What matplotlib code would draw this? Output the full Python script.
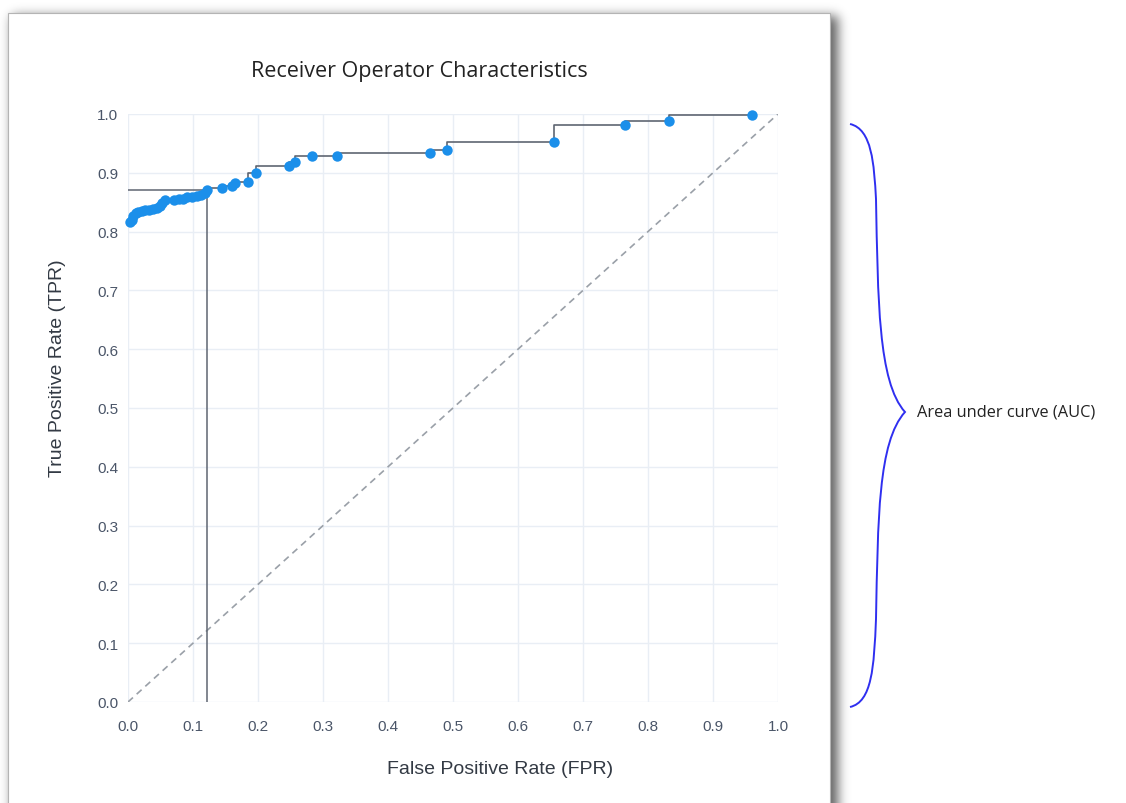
import math
import matplotlib.pyplot as plt
from matplotlib.patches import Rectangle, PathPatch
from matplotlib.path import Path
import numpy as np

# ROC points
fpr = [0.003, 0.006, 0.008, 0.012, 0.016, 0.021, 0.026, 0.032, 0.039, 0.044,
       0.049, 0.053, 0.057, 0.070, 0.078, 0.085, 0.090, 0.098, 0.106, 0.113,
       0.118, 0.122, 0.144, 0.160, 0.165, 0.185, 0.197, 0.248, 0.257, 0.283,
       0.321, 0.465, 0.490, 0.656, 0.765, 0.833, 0.960]
tpr = [0.816, 0.820, 0.827, 0.831, 0.833, 0.835, 0.836, 0.837, 0.838, 0.840,
       0.844, 0.848, 0.853, 0.854, 0.855, 0.856, 0.858, 0.859, 0.861, 0.863,
       0.866, 0.870, 0.875, 0.878, 0.882, 0.884, 0.900, 0.911, 0.918, 0.928,
       0.929, 0.934, 0.939, 0.953, 0.982, 0.988, 0.999]

# chosen threshold
thr_fpr = 0.122
thr_tpr = 0.870

ticks = [0.0, 0.1, 0.2, 0.3, 0.4, 0.5, 0.6, 0.7, 0.8, 0.9, 1.0]
tick_labels = ["0.0", "0.1", "0.2", "0.3", "0.4", "0.5", "0.6", "0.7", "0.8", "0.9", "1.0"]

W, H = 1126, 804
fig = plt.figure(figsize=(W / 100, H / 100), dpi=100)
fig.patch.set_facecolor("white")

# background layer in pixel coords: card with drop shadow, brace, note
bg = fig.add_axes([0, 0, 1, 1])
bg.set_xlim(0, W)
bg.set_ylim(H, 0)
bg.axis("off")

erf = np.frompyfunc(math.erf, 1, 1)
xs = np.arange(W) + 0.5
ys = np.arange(H) + 0.5
sig = 8.0
sx = 0.5 * (erf((xs - 12) / sig) - erf((xs - 838) / sig)).astype(float)
sy = 0.5 * (erf((ys - 17) / sig) - erf((ys - 900) / sig)).astype(float)
shade = 1 - 0.62 * np.outer(sy, sx)
bg.imshow(shade, cmap="gray", vmin=0, vmax=1, extent=(0, W, H, 0), aspect="auto",
          interpolation="bilinear")
bg.set_xlim(0, W)
bg.set_ylim(H, 0)
bg.add_patch(Rectangle((8, 14), 822, 800, facecolor="white", edgecolor="#b4b4b4", linewidth=0.8))

# curly brace
top, tip, bot = 125, 413, 708
verts = [(850, top), (872, top + 5), (874, top + 40), (876, 200),
         (878, 300), (878, tip - 30), (905, tip),
         (878, tip + 30), (878, 520), (876, 620),
         (874, bot - 40), (872, bot - 5), (850, bot)]
codes = [Path.MOVETO] + [Path.CURVE4] * 12
bg.add_patch(PathPatch(Path(verts, codes), facecolor="none", edgecolor="#2f2ff0", linewidth=1.4))
bg.text(917, tip, "Area under curve (AUC)", fontsize=11.8, family="Open Sans",
        color="#222222", va="center", ha="left")

# chart
ax = fig.add_axes([128 / W, (H - 703) / H, 650 / W, 588 / H])
ax.set_facecolor("none")
ax.set_xlim(0, 1)
ax.set_ylim(0, 1)
for s in ax.spines.values():
    s.set_visible(False)
ax.set_xticks(ticks)
ax.set_yticks(ticks)
ax.set_xticklabels(tick_labels)
ax.set_yticklabels(tick_labels)
ax.tick_params(length=0, labelsize=11, labelcolor="#4a5568")
ax.tick_params(axis="x", pad=12)
ax.tick_params(axis="y", pad=7)
for lab in ax.get_xticklabels() + ax.get_yticklabels():
    lab.set_family("Liberation Sans")
ax.grid(True, color="#e9eef5", linewidth=1)
ax.set_axisbelow(True)

ax.plot([0, 1], [0, 1], color="#9aa0a8", linestyle=(0, (4, 3)), linewidth=1.2)
ax.plot([0, thr_fpr], [thr_tpr, thr_tpr], color="#5f6672", linewidth=1.1)
ax.plot([thr_fpr, thr_fpr], [0, thr_tpr], color="#5f6672", linewidth=1.1)
ax.step(fpr, tpr, where="pre", color="#5f6672", linewidth=1.2)
ax.plot(fpr, tpr, "o", color="#1b8fea", markersize=7.5, markeredgewidth=0, clip_on=False, zorder=5)

fig.text(419 / W, 1 - 71 / H, "Receiver Operator Characteristics", fontsize=15.5,
         family="Open Sans", color="#222222", ha="center", va="center")
fig.text(500 / W, 1 - 770 / H, "False Positive Rate (FPR)", fontsize=14,
         family="Liberation Sans", color="#333a44", ha="center", va="center")
fig.text(57 / W, 1 - 368 / H, "True Positive Rate (TPR)", fontsize=14, rotation=90,
         family="Liberation Sans", color="#333a44", ha="center", va="center")

fig.savefig("out.png", dpi=100)
